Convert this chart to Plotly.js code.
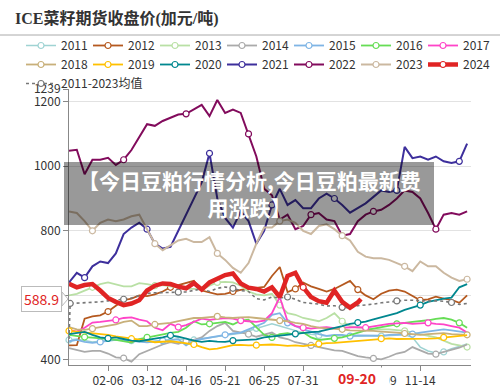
<!DOCTYPE html>
<html><head><meta charset="utf-8">
<script src="https://cdn.plot.ly/plotly-3.0.1.min.js"></script>
<style>html,body{margin:0;padding:0;background:#fff;}#chart{width:500px;height:387px;}</style>
</head><body><div id="chart"></div>
<script>
// week index within the year (x positions)
const weeks = [0,1,2,3,4,5,6,7,8,9,10,11,12,13,14,15,16,17,18,19,20,21,22,23,24,25,26,27,28,29,30,31,32,33,34,35,36,37,38,39,40,41,42,43,44,45,46,47,48,49,50,51];
const xTickVals = [5,10,15,20,25,30,35,40,45];
const xTickText = ['02-06','03-12','04-16','05-21','06-25','07-31','','10-09','11-14'];
const yTickVals = [400,600,800,1000,1200,1239];
const yTickText = ['400','','800','1000','1200','1239'];

const years = ['2011','2012','2013','2014','2015','2016','2017','2018','2019','2020','2021','2022','2023','2024'];
const colors = ['#9fd3d3','#b5591f','#b9e0a5','#aaaaaa','#7fb5e5','#66dd55','#ff44c8','#c8b07a','#ffc000','#00878f','#3d2f9c','#820b5c','#cbb8a0','#e02424'];

const y2011 = [462,465,460,456,458,460,463,462,460,458,456,458,461,463,465,462,462,466,470,474,477,480,483,490,498,505,512,505,498,490,484,480,476,474,475,476,473,474,474,475,474,476,477,478,470,440,428,422,425,435,442,450];
const y2012 = [445,446,528,535,538,550,568,585,590,600,598,603,612,625,632,638,645,615,610,603,605,612,617,620,623,626,660,688,610,620,640,628,620,612,620,632,645,618,600,588,605,615,618,612,598,585,588,596,590,586,577,600];
const y2013 = [600,605,615,625,635,640,635,628,628,638,635,630,632,628,625,620,620,618,630,640,642,640,630,612,603,600,605,570,545,540,530,525,520,530,545,520,505,500,498,497,495,495,493,490,485,480,475,470,460,450,445,440];
const y2014 = [437,432,425,428,428,420,408,406,395,418,428,440,448,455,450,458,462,470,490,505,515,490,485,480,472,478,485,470,465,455,450,445,440,437,430,428,420,412,408,405,402,410,420,425,440,430,420,418,425,432,438,448];
const y2015 = [458,462,456,453,456,459,462,461,460,457,455,457,460,462,464,445,460,465,470,475,478,482,485,495,505,515,540,545,515,505,495,488,480,475,478,478,474,476,475,476,475,478,478,478,480,485,488,490,495,492,488,485];
const y2016 = [478,474,471,469,468,465,462,457,454,465,470,475,478,484,487,500,520,510,512,515,518,510,522,525,500,478,470,480,483,478,486,470,462,465,467,470,477,485,492,497,502,505,512,515,518,520,523,527,530,525,515,500];
const y2017 = [493,488,500,516,518,520,524,530,532,525,520,500,492,512,502,508,518,528,524,526,530,528,522,520,518,522,545,595,520,505,500,497,500,502,499,500,500,502,500,505,508,512,514,515,512,513,515,512,510,505,500,485];
const y2018 = [502,495,493,497,500,505,510,518,522,505,505,510,512,515,520,525,530,530,533,535,532,530,532,533,530,528,525,522,520,515,512,505,500,498,497,495,492,492,490,490,488,487,485,482,480,478,480,482,483,480,478,478];
const y2019 = [490,488,486,484,482,478,473,470,466,462,460,455,456,458,455,452,448,440,433,435,441,446,447,445,446,448,448,446,444,445,443,446,450,452,453,455,458,460,462,463,466,467,465,465,466,464,466,467,470,472,474,477];
const y2020 = [480,484,487,478,470,467,470,465,460,458,461,466,470,476,472,465,460,456,459,457,456,460,462,462,464,470,473,476,478,481,484,486,488,493,499,505,512,516,519,526,532,538,545,555,562,570,580,586,590,593,625,635];
const y2021 = [640,670,655,690,705,700,730,790,810,825,805,760,745,750,800,850,900,950,1040,900,840,810,860,830,760,800,880,930,880,895,870,870,900,915,900,880,856,870,885,905,925,920,925,1060,1025,1030,1020,1030,1015,1010,1015,1070];
const y2022 = [1048,1051,975,1020,1020,1026,1004,1020,1050,1090,1130,1125,1140,1150,1160,1162,1175,1190,1155,1205,1165,1175,1165,1100,1030,930,910,835,850,805,815,850,855,835,830,785,790,830,850,860,865,880,900,925,920,900,855,805,850,855,850,860];
const y2023 = [860,855,830,800,825,835,830,835,845,850,805,760,740,755,770,775,765,765,780,730,710,685,670,700,760,810,810,830,835,825,800,790,815,820,805,785,770,735,720,715,715,710,700,690,675,705,690,690,670,655,645,650];
const x2024 = [0,1,2,3,4,5,6,7,8,9,10,11,12,13,14,15,16,17,18,19,20,21,22,23,24,25,26,27,28,29,30,31,32,33,34,35,36,37,37.4];
const y2024 = [636,625,632,635,615,592,580,570,575,585,615,630,637,635,627,622,638,618,640,652,663,668,637,624,620,612,625,595,660,670,625,595,582,577,615,580,562,578,588.9];
const avgX = [0,0.15,1,2,3,4,5,6,7,8,9,10,11,12,13,14,15,16,17,18,19,20,21,22,23,24,25,26,27,28,29,30,31,32,33,34,35,36,37,38,39,40,41,42,43,44,45,46,47,48,49,50,51];
const avgY = [465,575,576,577,578,580,583,585,588,592,598,606,608,608,608,610,611,615,620,612,622,626,622,615,612,590,586,595,592,595,588,578,576,573,567,568,563,562,568,570,573,577,580,583,585,585,583,583,583,582,578,572,575];
const avgName = '2011-2023均值';
const overlayText = '【今日豆粕行情分析,今日豆粕最新费<br>用涨跌】';
const lastDate = '09-20';
const lastValue = 588.9;

const series = [y2011,y2012,y2013,y2014,y2015,y2016,y2017,y2018,y2019,y2020,y2021,y2022,y2023];
const widths = [1.5,1.8,1.8,1.8,1.8,1.8,1.8,1.8,1.8,1.8,2,2,2];

const traces = [];
series.forEach((ys, i) => {
  traces.push({
    x: weeks, y: ys, name: years[i], type: 'scatter', mode: 'lines+markers',
    line: {color: colors[i], width: widths[i]},
    marker: {size: 6, color: '#fff', line: {color: colors[i], width: 1.2}, maxdisplayed: 7},
    cliponaxis: false
  });
});
traces.push({
  x: avgX, y: avgY, name: avgName, type: 'scatter', mode: 'lines+markers',
  line: {color: '#777', width: 1.6, dash: 'dot'},
  marker: {size: 6, color: '#fff', line: {color: '#777', width: 1.2}, maxdisplayed: 8},
  legendrank: 2000
});
traces.push({
  x: x2024, y: y2024, name: years[13], type: 'scatter', mode: 'lines+markers',
  line: {color: colors[13], width: 4.5},
  marker: {size: 6, color: '#fff', line: {color: colors[13], width: 1.2}, maxdisplayed: 1},
  legendrank: 1000
});

const W = 402, H = 276, L = 69, T = 89;
const px = v => (v - L) / W;        // pixel x -> paper
const py = v => (T + H - v) / H;    // pixel y -> paper

const layout = {
  width: 500, height: 387,
  margin: {l: L, r: 29, t: T, b: 22},
  paper_bgcolor: '#fff', plot_bgcolor: '#fff',
  font: {family: '"Noto Sans CJK SC", "Noto Sans", sans-serif', color: '#333', size: 12},
  title: {text: 'ICE菜籽期货收盘价(加元/吨)', xref: 'container', yref: 'container', x: 0.03, xanchor: 'left', y: 1 - 18/387, yanchor: 'middle',
          font: {family: '"Liberation Serif", "Noto Sans CJK SC", serif', size: 16, color: '#333', weight: 'bold'}},
  showlegend: true,
  legend: {orientation: 'h', x: px(21), xanchor: 'left', y: py(31), yanchor: 'top', entrywidth: 22, entrywidthmode: 'pixels',
           font: {size: 12, color: '#333'}, bgcolor: 'rgba(0,0,0,0)', tracegroupgap: 0, traceorder: 'normal'},
  xaxis: {range: [0, 51.5], showline: true, linecolor: '#888', linewidth: 1, ticks: 'outside', ticklen: 5, tickcolor: '#888',
          tickvals: xTickVals, ticktext: xTickText, showgrid: false, zeroline: false, tickfont: {size: 12, color: '#333'}, fixedrange: true},
  yaxis: {range: [384.5, 1239], showline: true, linecolor: '#888', linewidth: 1, ticks: 'outside', ticklen: 5, tickcolor: '#888',
          tickvals: yTickVals, ticktext: yTickText, gridcolor: '#e2e2e2', gridwidth: 1, zeroline: false, tickfont: {size: 12, color: '#333'}, fixedrange: true},
  shapes: [
    {type: 'line', xref: 'paper', yref: 'paper', x0: px(0), x1: px(500), y0: py(35), y1: py(35), line: {color: '#aaa', width: 1}},
    {type: 'rect', xref: 'paper', yref: 'paper', x0: px(64), x1: px(434), y0: py(225), y1: py(162), fillcolor: 'rgba(0,0,0,0.4)', line: {width: 0}, layer: 'above'},
    {type: 'path', xref: 'paper', yref: 'y', xsizemode: 'pixel', ysizemode: 'pixel', xanchor: px(62), yanchor: lastValue,
     path: 'M0,-7 L6,0 L0,7 Z', fillcolor: '#fff', line: {color: '#bbb', width: 1}, layer: 'above'}
  ],
  annotations: [
    {xref: 'paper', yref: 'paper', x: px(249), y: py(193), text: overlayText, showarrow: false, align: 'center',
     font: {size: 21, color: '#fff', weight: 'bold'}, xanchor: 'center', yanchor: 'middle'},
    {xref: 'x', yref: 'paper', x: 36.9, y: py(378), text: lastDate, showarrow: false, bgcolor: '#fff', width: 62, height: 18,
     font: {size: 14, color: '#e02424', weight: 'bold'}, xanchor: 'center', yanchor: 'middle'},
    {xref: 'paper', yref: 'y', x: px(62), y: lastValue, text: String(lastValue), showarrow: false, bgcolor: '#fff',
     bordercolor: '#bbb', borderwidth: 1, borderpad: 2, font: {size: 14, color: '#e02424'}, xanchor: 'right', yanchor: 'middle'}
  ]
};

Plotly.newPlot('chart', traces, layout, {displayModeBar: false, staticPlot: true});
</script>
</body></html>
